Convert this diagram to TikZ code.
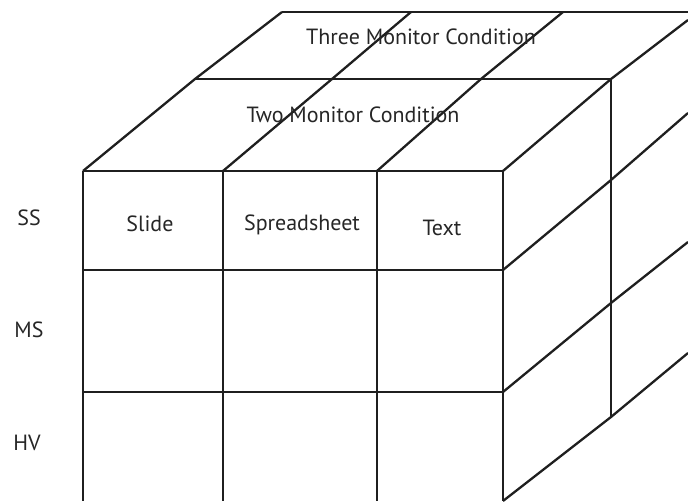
\documentclass[tikz,border=0pt]{standalone}
\usepackage{fontspec}
\setmainfont{PT Sans}
\begin{document}
\begin{tikzpicture}[x=1pt,y=-1pt,
  edge/.style={line width=2.3pt,draw=black!88},
  lbl/.style={inner sep=0pt,font=\fontsize{22}{26}\selectfont,text=black!85}]
\useasboundingbox (0,0) rectangle (688,502);
\clip (0,0) rectangle (688,502);
% front face corners (columns x rows)
\foreach \c/\x in {0/83,1/223,2/377,3/503}{
  \foreach \r/\y in {0/171,1/270,2/392,3/501}{
    \coordinate (f\c\r) at (\x,\y);
  }
}
% middle layer top edge and back layer top edge
\coordinate (m0) at (195,79);
\coordinate (m1) at (332,79);
\coordinate (m2) at (481,79);
\coordinate (m3) at (611,79);
\coordinate (b0) at (282,12);
\coordinate (b1) at (411,12);
\coordinate (b2) at (563,12);
\coordinate (b3) at (688,20);
\coordinate (bt) at (688,12);
% right face
\coordinate (s1) at (611,180);
\coordinate (s2) at (611,303);
\coordinate (s3) at (611,417);
\coordinate (e1) at (688,113);
\coordinate (e2) at (688,242);
\coordinate (e3) at (688,353);

% front grid
\foreach \c in {0,1,2,3}{\draw[edge] (f\c0) -- (f\c3);}
\foreach \r in {0,1,2}{\draw[edge] (f0\r) -- (f3\r);}
% top face
\draw[edge] (m0) -- (m3) -- (s3);
\draw[edge] (b0) -- (bt);
\foreach \c in {0,1,2,3}{\draw[edge] (f\c0) -- (m\c) -- (b\c);}
% right face
\draw[edge] (f31) -- (s1) -- (e1);
\draw[edge] (f32) -- (s2) -- (e2);
\draw[edge] (f33) -- (s3) -- (e3);

% labels
\node[lbl] (three) at (421,37) {Three Monitor Condition};
\node[lbl] (two) at (353,115) {Two Monitor Condition};
\node[lbl] (slide) at (150,224) {Slide};
\node[lbl] (sheet) at (302,225) {Spreadsheet};
\node[lbl] (text) at (442,228) {Text};
\node[lbl] (ss) at (29,218) {SS};
\node[lbl] (ms) at (29,330) {MS};
\node[lbl] (hv) at (27,443) {HV};
\end{tikzpicture}
\end{document}
